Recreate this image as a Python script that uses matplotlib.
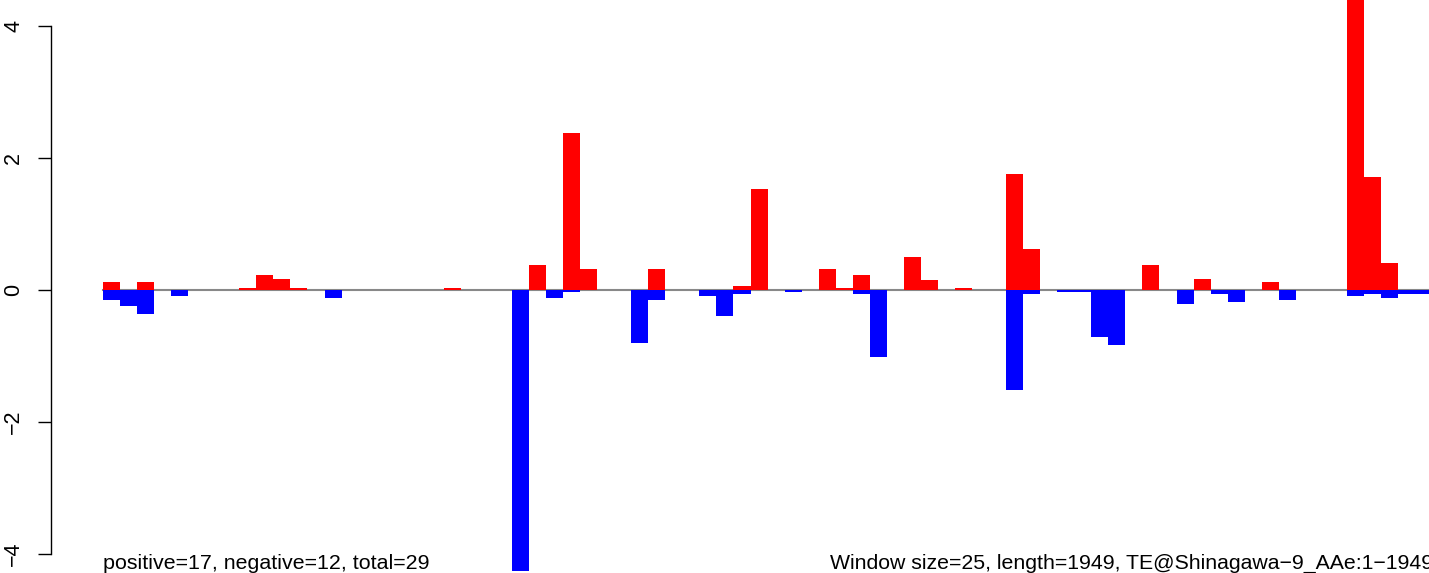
import matplotlib
matplotlib.use("Agg")
import matplotlib.pyplot as plt
import numpy as np

plt.rcParams['font.family'] = ['Liberation Sans', 'DejaVu Sans']

n_bins = 78
pos_idx = [0, 2, 8, 9, 10, 11, 20, 25, 27, 28, 32, 37, 38, 42, 43, 44, 47, 48,
           50, 53, 54, 61, 64, 68, 73, 74, 75]
pos_val = [0.12, 0.12, 0.03, 0.23, 0.17, 0.03, 0.03, 0.38, 2.38, 0.32, 0.32, 0.06,
           1.53, 0.32, 0.03, 0.23, 0.50, 0.15, 0.03, 1.76, 0.62, 0.38, 0.17, 0.12,
           5.0, 1.71, 0.41]
neg_idx = [0, 1, 2, 4, 13, 24, 26, 27, 31, 32, 35, 36, 37, 40, 44, 45, 53, 54,
           56, 57, 58, 59, 63, 65, 66, 69, 73, 74, 75, 76, 77]
neg_val = [-0.15, -0.24, -0.36, -0.09, -0.12, -4.25, -0.12, -0.03, -0.80, -0.15,
           -0.09, -0.39, -0.06, -0.03, -0.06, -1.01, -1.51, -0.06, -0.03, -0.03,
           -0.71, -0.83, -0.21, -0.06, -0.18, -0.15, -0.09, -0.06, -0.12, -0.06,
           -0.06]
y_ticks = [-4, -2, 0, 2, 4]
left_text = "positive=17, negative=12, total=29"
right_text = "Window size=25, length=1949, TE@Shinagawa\u22129_AAe:1\u22121949"

W, H = 1429, 573
fig = plt.figure(figsize=(W / 100, H / 100), dpi=100)
ax = fig.add_axes([51 / W, 0, 1 - 51 / W, 1])

bw = 17.04
x0 = (51 - 103) / bw
x1 = (W - 103) / bw
ax.set_xlim(x0, x1)
ax.set_ylim(-(573 - 290) / 66, 290 / 66)

ax.plot([0, n_bins], [0, 0], color='#888888', lw=1.5, zorder=1)
ax.bar(pos_idx, pos_val, width=1.0, align='edge', color='#FF0000', lw=0, zorder=2)
ax.bar(neg_idx, neg_val, width=1.0, align='edge', color='#0000FF', lw=0, zorder=2)

for s in ['top', 'right', 'bottom']:
    ax.spines[s].set_visible(False)
ax.spines['left'].set_bounds(-4, 4)
ax.spines['left'].set_linewidth(1.0)
ax.set_xticks([])
ax.set_yticks(y_ticks)
ax.set_yticklabels([str(t).replace('-', '\u2212') for t in y_ticks], rotation=90,
                   va='center', fontsize=15.5)
ax.tick_params(axis='y', length=9.4, width=1.0, pad=10)

ax.text(0, -4.23, left_text, ha='left', va='baseline', fontsize=15.4)
ax.text((1433 - 103) / bw, -4.23, right_text, ha='right', va='baseline', fontsize=15.3)

fig.savefig("out.png", dpi=100)
